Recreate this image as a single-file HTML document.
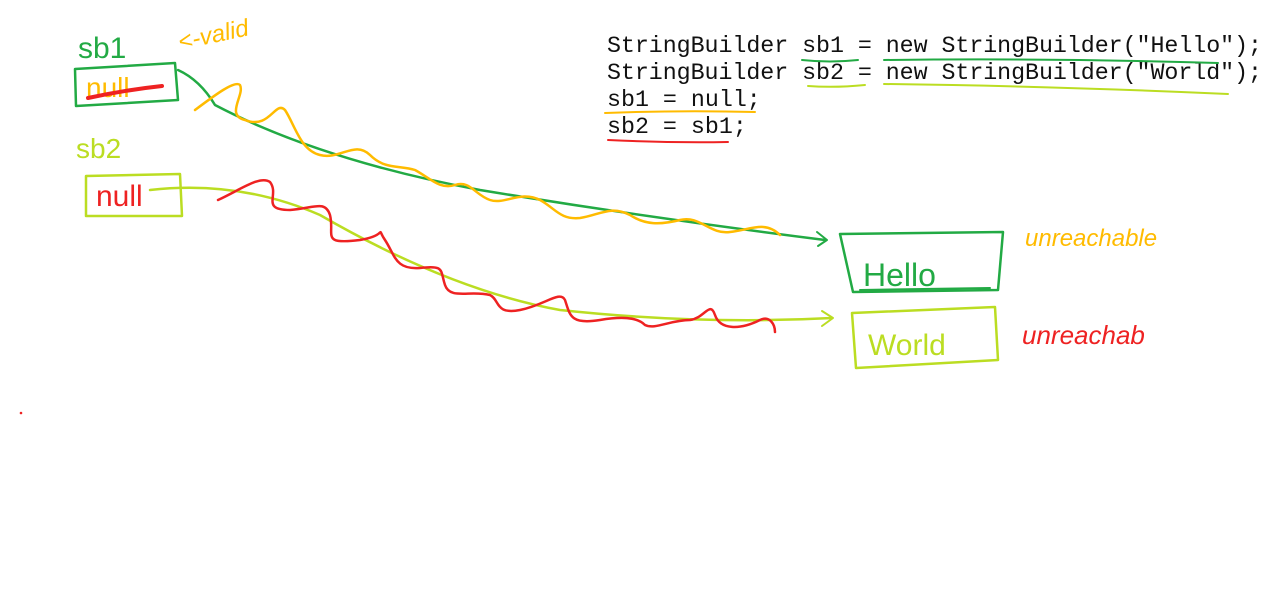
<!DOCTYPE html>
<html><head><meta charset="utf-8"><style>
html,body{margin:0;padding:0;background:#fff;}
svg{display:block}
.code{font-family:"Liberation Mono",monospace;font-size:23.3px;fill:#111;}
.hw{font-family:"Liberation Sans",sans-serif;}
</style></head><body>
<svg width="1268" height="590" viewBox="0 0 1268 590" xmlns="http://www.w3.org/2000/svg" fill="none" stroke-linecap="round" stroke-linejoin="round">
<text class="code" x="607" y="52" textLength="655">StringBuilder sb1 = new StringBuilder("Hello");</text>
<text class="code" x="607" y="79" textLength="655">StringBuilder sb2 = new StringBuilder("World");</text>
<text class="code" x="607" y="106">sb1 = null;</text>
<text class="code" x="607" y="133">sb2 = sb1;</text>
<path d="M802 60 Q830 63 858 60" stroke="#22aa44" stroke-width="2"/>
<path d="M884 60 Q1050 58 1218 63" stroke="#22aa44" stroke-width="2"/>
<path d="M808 86 Q835 88 865 85" stroke="#bbdd22" stroke-width="2"/>
<path d="M884 84 Q1050 86 1228 94" stroke="#bbdd22" stroke-width="2"/>
<path d="M605 113 Q680 110 755 112" stroke="#ffbb00" stroke-width="2"/>
<path d="M608 140 Q670 143 728 142" stroke="#ee2222" stroke-width="2"/>
<text class="hw" x="78" y="58" font-size="30" fill="#22aa44">sb1</text>
<text class="hw" x="180" y="50" font-size="24" fill="#ffbb00" font-style="italic" transform="rotate(-12 180 50)">&lt;-valid</text>
<path d="M75 69 L175 63 L178 100 L76 106 Z" stroke="#22aa44" stroke-width="2.5"/>
<text class="hw" x="86" y="97" font-size="28" fill="#ffbb00">null</text>
<path d="M88 98 Q125 90 162 86" stroke="#ee2222" stroke-width="4"/>
<text class="hw" x="76" y="158" font-size="28" fill="#bbdd22">sb2</text>
<path d="M86 176 L180 174 L182 216 L86 216 Z" stroke="#bbdd22" stroke-width="2.5"/>
<text class="hw" x="96" y="206" font-size="30" fill="#ee2222">null</text>
<path d="M178 70 Q200 80 215 105 Q320 160 480 190 Q650 218 825 240" stroke="#22aa44" stroke-width="2.5"/>
<path d="M817 232 L827 240 L818 246" stroke="#22aa44" stroke-width="2"/>
<path d="M150 190 Q240 180 320 215 Q450 290 560 310 Q700 325 832 318" stroke="#bbdd22" stroke-width="2.5"/>
<path d="M822 311 L833 318 L822 326" stroke="#bbdd22" stroke-width="2"/>
<path d="M195 110 C215 95 235 80 240 85 C245 95 225 115 245 120 C270 130 275 100 285 110 C295 125 300 150 320 155 C340 160 355 140 370 155 C385 170 400 165 415 170 C430 178 440 190 455 185 C470 180 475 195 490 200 C505 205 520 190 540 200 C555 208 560 220 580 218 C600 215 610 205 630 215 C645 225 660 225 680 220 C700 215 710 235 730 232 C750 230 765 220 780 235" stroke="#ffbb00" stroke-width="2.5"/>
<path d="M218 200 C240 190 260 175 270 182 C280 195 260 210 290 210 C315 208 325 200 330 215 C335 235 320 245 360 240 C390 235 375 225 385 240 C395 255 395 270 420 268 C445 265 440 270 445 285 C450 300 470 290 490 295 C500 300 495 315 520 310 C545 305 560 290 565 300 C570 315 570 325 600 320 C630 315 640 320 645 325 C655 330 670 320 690 320 C705 318 710 300 715 315 C720 330 740 330 760 320 C770 315 775 325 775 332" stroke="#ee2222" stroke-width="2.5"/>
<path d="M840 234 L1003 232 L998 290 L853 292 Z" stroke="#22aa44" stroke-width="2.5"/>
<text class="hw" x="863" y="286" font-size="32" fill="#22aa44">Hello</text>
<path d="M860 290 L990 288" stroke="#22aa44" stroke-width="2"/>
<text class="hw" x="1025" y="246" font-size="24" fill="#ffbb00" font-style="italic">unreachable</text>
<path d="M852 313 L995 307 L998 360 L856 368 Z" stroke="#bbdd22" stroke-width="2.5"/>
<text class="hw" x="868" y="355" font-size="30" fill="#bbdd22">World</text>
<text class="hw" x="1022" y="344" font-size="26" fill="#ee2222" font-style="italic">unreachab</text>
<circle cx="21" cy="413" r="1.3" fill="#ee2222"/>
</svg>
</body></html>
